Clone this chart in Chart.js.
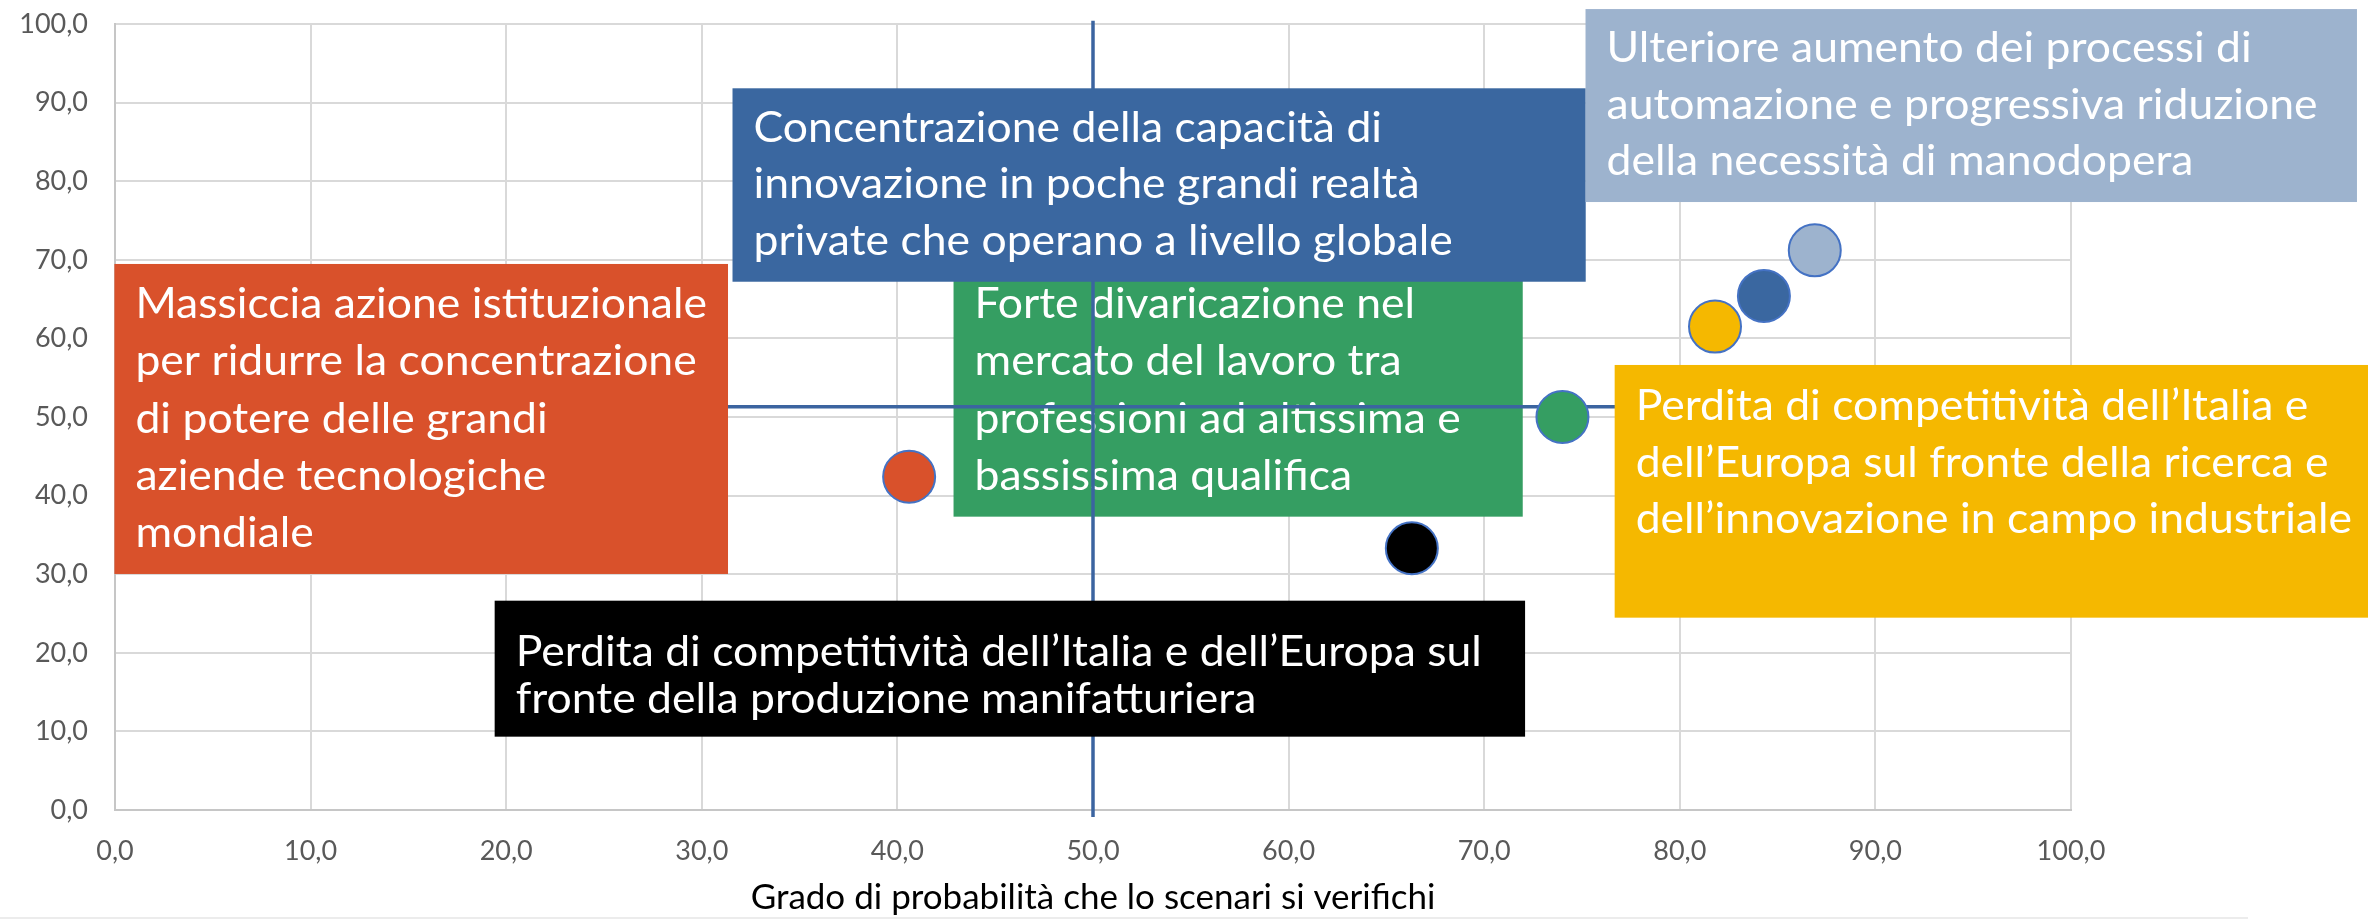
<!DOCTYPE html>
<html>
<head>
<meta charset="utf-8">
<script src="https://cdn.jsdelivr.net/npm/chart.js@4.4.1/dist/chart.umd.min.js"></script>
<style>
  html, body { margin: 0; padding: 0; background: #fff; }
  #wrap { position: relative; width: 2368px; height: 919px; }
  #frame-line { position: absolute; left: 0; top: 917px; width: 2248px; height: 2px; background: #ececec; }
</style>
</head>
<body>
<div id="wrap">
  <canvas id="chart" width="2368" height="919"></canvas>
  <div id="frame-line"></div>
</div>
<script>
// Scenari: probabilità (asse x) e impatto (asse y)
const scenarioIds = ['istituzionale', 'manifattura', 'lavoro', 'ricerca', 'concentrazione', 'automazione'];
const probability = [40.6, 66.3, 74.0, 81.8, 84.3, 86.9];
const impact = [42.4, 33.3, 50.0, 61.5, 65.4, 71.2];

// Linee medie
const meanProbability = 50.0;
const meanImpact = 51.3;

// Tick labels (0,0 ... 100,0)
const tickValues = [0, 10, 20, 30, 40, 50, 60, 70, 80, 90, 100];

const xTitle = 'Grado di probabilità che lo scenari si verifichi';

// Colours
const scenarioColors = ['#D9512B', '#000000', '#359E62', '#F5B800', '#3A67A0', '#9DB3CE'];
const lineColor = '#3B64A0';
const FONT = 'Lato';
const textSquash = 1.06;
const boxFontSize = 42;

// Text boxes (anchored to the axis scales)
const labelBoxes = [
  { id: 'lavoro', color: '#359E62', under: true, x0: 42.87, x1: 71.97, y0: 69.47, y1: 37.32, first: 54, gap: 57.3,
    lines: ['Forte divaricazione nel', 'mercato del lavoro tra', 'professioni ad altissima e', 'bassissima qualifica'] },
  { id: 'istituzionale', color: '#D9512B', x0: -0.03, x1: 31.34, y0: 69.47, y1: 30.03, first: 54, gap: 57.3,
    lines: ['Massiccia azione istituzionale', 'per ridurre la concentrazione', 'di potere delle grandi', 'aziende tecnologiche', 'mondiale'] },
  { id: 'manifattura', color: '#000000', x0: 19.41, x1: 72.09, y0: 26.63, y1: 9.33, first: 65, gap: 47.5,
    lines: ['Perdita di competitività dell’Italia e dell’Europa sul', 'fronte della produzione manifatturiera'] },
  { id: 'ricerca', color: '#F5B800', x0: 76.67, x1: 118, y0: 56.62, y1: 24.47, first: 55, gap: 56.7,
    lines: ['Perdita di competitività dell’Italia e', 'dell’Europa sul fronte della ricerca e', 'dell’innovazione in campo industriale'] },
  { id: 'concentrazione', color: '#3A67A0', x0: 31.57, x1: 75.19, y0: 91.82, y1: 67.21, first: 53.4, gap: 56.7,
    lines: ['Concentrazione della capacità di', 'innovazione in poche grandi realtà', 'private che operano a livello globale'] },
  { id: 'automazione', color: '#9DB3CE', x0: 75.18, x1: 114.62, y0: 101.9, y1: 77.35, first: 53, gap: 56.7,
    lines: ['Ulteriore aumento dei processi di', 'automazione e progressiva riduzione', 'della necessità di manodopera'] }
];

function fmt(v) {
  return v.toFixed(1).replace('.', ',');
}

function drawBox(chart, box) {
  const { ctx, scales: { x, y } } = chart;
  const left = x.getPixelForValue(box.x0);
  const right = x.getPixelForValue(box.x1);
  const top = y.getPixelForValue(box.y0);
  const bottom = y.getPixelForValue(box.y1);
  ctx.save();
  ctx.fillStyle = box.color;
  ctx.fillRect(left, top, right - left, bottom - top);
  ctx.fillStyle = '#ffffff';
  ctx.font = `${boxFontSize}px ${FONT}`;
  ctx.textBaseline = 'alphabetic';
  ctx.textAlign = 'left';
  box.lines.forEach((line, i) => {
    ctx.save();
    ctx.translate(left + 21, top + box.first + i * box.gap);
    ctx.scale(textSquash, 1);
    ctx.fillText(line, 0, 0);
    ctx.restore();
  });
  ctx.restore();
}

const boxesPlugin = {
  id: 'boxes',
  beforeDatasetsDraw(chart) {
    labelBoxes.filter(b => b.under).forEach(b => drawBox(chart, b));
  },
  afterDatasetsDraw(chart) {
    labelBoxes.filter(b => !b.under).forEach(b => drawBox(chart, b));
  }
};

const ctx = document.getElementById('chart').getContext('2d');
new Chart(ctx, {
  type: 'scatter',
  data: {
    datasets: [
      {
        label: 'Scenari',
        data: probability.map((p, i) => ({ x: p, y: impact[i], id: scenarioIds[i] })),
        backgroundColor: scenarioColors,
        borderColor: '#4472C4',
        borderWidth: 2,
        pointRadius: 26,
        pointHoverRadius: 26,
        order: 0
      },
      {
        type: 'line',
        label: 'Media impatto',
        data: [{ x: 0, y: meanImpact }, { x: 100, y: meanImpact }],
        borderColor: lineColor,
        borderWidth: 3.5,
        pointRadius: 0,
        clip: false,
        order: 1
      },
      {
        type: 'line',
        label: 'Media probabilità',
        data: [{ x: meanProbability, y: -0.9 }, { x: meanProbability, y: 100.4 }],
        borderColor: lineColor,
        borderWidth: 3.5,
        pointRadius: 0,
        clip: false,
        order: 1
      }
    ]
  },
  options: {
    responsive: false,
    animation: false,
    devicePixelRatio: 1,
    layout: { autoPadding: false, padding: { top: 24, right: 297, left: 0, bottom: 0 } },
    plugins: {
      legend: { display: false },
      tooltip: { enabled: false }
    },
    scales: {
      x: {
        type: 'linear',
        min: 0,
        max: 100,
        afterBuildTicks: s => { s.ticks = tickValues.map(v => ({ value: v })); },
        afterFit: s => { s.height = 109; s.paddingLeft = 0; s.paddingRight = 0; },
        grid: { color: '#d9d9d9', lineWidth: 2, drawTicks: false },
        border: { color: '#c6c6c6', width: 2 },
        ticks: {
          padding: 25,
          color: '#595959',
          font: { family: FONT, size: 27 },
          maxRotation: 0,
          callback: v => fmt(v)
        },
        title: {
          display: true,
          text: xTitle,
          color: '#000000',
          font: { family: FONT, size: 35 },
          padding: { top: 0, bottom: 0 }
        }
      },
      y: {
        type: 'linear',
        min: 0,
        max: 100,
        afterBuildTicks: s => { s.ticks = tickValues.map(v => ({ value: v })); },
        afterFit: s => { s.width = 115; s.paddingTop = 0; s.paddingBottom = 0; },
        grid: { color: '#d9d9d9', lineWidth: 2, drawTicks: false },
        border: { color: '#c6c6c6', width: 2 },
        ticks: {
          padding: 27,
          color: '#595959',
          font: { family: FONT, size: 27 },
          callback: v => fmt(v)
        }
      }
    }
  },
  plugins: [boxesPlugin]
});
</script>
</body>
</html>
